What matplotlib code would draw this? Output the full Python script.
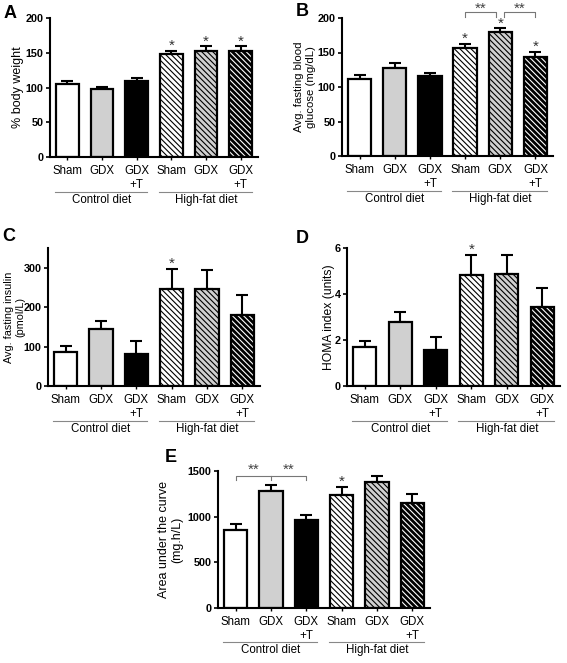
import matplotlib
matplotlib.use('Agg')
import matplotlib.pyplot as plt
from matplotlib.transforms import blended_transform_factory

plt.rcParams['font.family'] = ['Liberation Sans', 'DejaVu Sans']
plt.rcParams['hatch.linewidth'] = 0.8

# bar labels, same order in every panel
bar_labels = ['Sham', 'GDX', 'GDX\n+T', 'Sham', 'GDX', 'GDX\n+T']
diet_labels = ['Control diet', 'High-fat diet']

# A - % body weight
weight_mean = [105, 98, 110, 148, 153, 152]
weight_err = [4, 3, 4, 5, 6, 7]
weight_stars = [3, 4, 5]

# B - fasting glucose
glucose_mean = [112, 128, 116, 156, 179, 144]
glucose_err = [5, 7, 5, 7, 6, 7]
glucose_stars = [3, 4, 5]

# C - fasting insulin
insulin_mean = [87, 144, 82, 247, 245, 180]
insulin_err = [14, 21, 31, 51, 48, 51]
insulin_stars = [3]

# D - HOMA index
homa_mean = [1.70, 2.80, 1.55, 4.83, 4.85, 3.44]
homa_err = [0.27, 0.40, 0.58, 0.88, 0.83, 0.84]
homa_stars = [3]

# E - area under the curve
auc_mean = [850, 1280, 965, 1235, 1378, 1152]
auc_err = [68, 62, 50, 92, 68, 98]
auc_stars = [3]

fig = plt.figure(figsize=(5.67, 6.63), dpi=100)

fills = ['white', '#d0d0d0', 'black', 'white', '#d0d0d0', 'black']
HATCH = '\\' * 6


def draw_panel(ax, means, errs, ymax, yticks, ylabel, label_x, label_size, stars, letter, letter_xy):
    x = list(range(len(means)))
    ax.errorbar(x, means, yerr=[[0] * len(errs), errs], fmt='none', ecolor='black',
                elinewidth=1.5, capsize=4, capthick=1.5, zorder=1)
    for i in x:
        if i == 5:
            # black bar with white stripes, then black outline on top
            ax.bar(i, means[i], width=0.66, color='black', edgecolor='white',
                   hatch=HATCH, linewidth=0, zorder=2)
            ax.bar(i, means[i], width=0.66, fill=False, edgecolor='black',
                   linewidth=1.6, zorder=3)
        else:
            ax.bar(i, means[i], width=0.66, color=fills[i], edgecolor='black',
                   hatch=HATCH if i >= 3 else None, linewidth=1.6, zorder=2)
    for i in stars:
        ax.annotate('*', (i, means[i] + errs[i]), xytext=(0, 0.5), textcoords='offset points',
                    ha='center', va='baseline', fontsize=11, color='#333333')

    ax.set_xlim(-0.5, 5.5)
    ax.set_ylim(0, ymax)
    ax.set_yticks(yticks)
    ax.set_xticks(x)
    ax.set_xticklabels(bar_labels, fontsize=8.3, linespacing=1.3)
    for lab in ax.get_yticklabels():
        lab.set_fontweight('bold')
        lab.set_fontsize(7.8)
    ax.tick_params(axis='y', length=3, width=1.2, pad=1.5)
    ax.tick_params(axis='x', length=2.5, width=1, pad=3)
    ax.spines['top'].set_visible(False)
    ax.spines['right'].set_visible(False)
    ax.spines['left'].set_linewidth(1.5)
    ax.spines['bottom'].set_linewidth(1.5)
    ax.set_ylabel(ylabel, fontsize=label_size, linespacing=1.15, va='center')
    ax.yaxis.set_label_coords(label_x, 0.5)

    trans = blended_transform_factory(ax.transData, ax.transAxes)
    ax.plot([-0.36, 2.31], [-0.25, -0.25], transform=trans, color='#888888', lw=0.8, clip_on=False)
    ax.plot([2.64, 5.33], [-0.25, -0.25], transform=trans, color='#888888', lw=0.8, clip_on=False)
    ax.text(1, -0.31, diet_labels[0], transform=trans, ha='center', va='center', fontsize=8.3)
    ax.text(4, -0.31, diet_labels[1], transform=trans, ha='center', va='center', fontsize=8.3)

    fig.text(letter_xy[0] / 567, 1 - letter_xy[1] / 663, letter, fontsize=13,
             fontweight='bold', ha='center', va='center')


def bracket(ax, x0, x1, y_top, y_end, mid=None):
    ax.plot([x0, x0, x1, x1], [y_end, y_top, y_top, y_end], color='#777777', lw=0.8, clip_on=False)
    if mid is not None:
        ax.plot([mid, mid], [y_top, y_end], color='#777777', lw=0.8, clip_on=False)


axA = fig.add_axes([50 / 567, 1 - 157 / 663, 208 / 567, 139 / 663])
draw_panel(axA, weight_mean, weight_err, 200, [0, 50, 100, 150, 200], '% body weight',
           -0.154, 9, weight_stars, 'A', (10, 13))

axB = fig.add_axes([342 / 567, 1 - 156 / 663, 211 / 567, 138 / 663])
draw_panel(axB, glucose_mean, glucose_err, 200, [0, 50, 100, 150, 200],
           'Avg. fasting blood\nglucose (mg/dL)', -0.175, 8.2, glucose_stars, 'B', (302, 12))
bracket(axB, 3, 3.88, 209, 202)
bracket(axB, 4.12, 5, 209, 202)
axB.text(3.44, 207, '**', ha='center', va='baseline', fontsize=11, color='#444444')
axB.text(4.56, 207, '**', ha='center', va='baseline', fontsize=11, color='#444444')

axC = fig.add_axes([48 / 567, 1 - 386 / 663, 212 / 567, 138 / 663])
draw_panel(axC, insulin_mean, insulin_err, 350, [0, 100, 200, 300],
           'Avg. fasting insulin\n(pmol/L)', -0.158, 7.8, insulin_stars, 'C', (9, 236))

axD = fig.add_axes([347 / 567, 1 - 386 / 663, 213 / 567, 138 / 663])
draw_panel(axD, homa_mean, homa_err, 6, [0, 2, 4, 6], 'HOMA index (units)',
           -0.085, 8.7, homa_stars, 'D', (302, 238))

axE = fig.add_axes([218 / 567, 1 - 608 / 663, 212 / 567, 137 / 663])
draw_panel(axE, auc_mean, auc_err, 1500, [0, 500, 1000, 1500],
           'Area under the curve\n(mg.h/L)', -0.222, 9, auc_stars, 'E', (171, 458))
bracket(axE, 0, 2, 1445, 1400, mid=1)
axE.text(0.5, 1470, '**', ha='center', va='baseline', fontsize=11, color='#444444')
axE.text(1.5, 1470, '**', ha='center', va='baseline', fontsize=11, color='#444444')

fig.savefig('out.png', dpi=100)
